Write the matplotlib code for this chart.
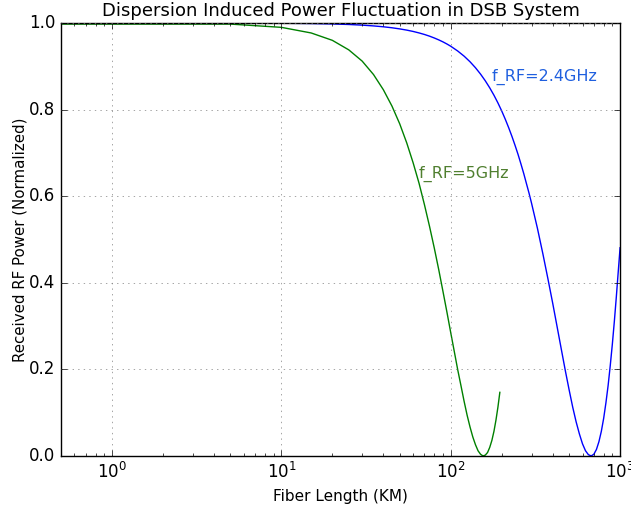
import matplotlib
matplotlib.use('Agg')
import matplotlib.pyplot as plt

# fiber length (km) and normalized RF power
len_5g = [0, 5, 10, 15, 20, 25, 30, 35, 40, 45, 50, 55, 60, 65, 70, 75, 80, 85, 90, 95,
          100, 105, 110, 115, 120, 125, 130, 135, 140, 145, 150, 155, 160, 165, 170, 175,
          180, 185, 190, 195]
pow_5g = [1.0, 0.9975, 0.990, 0.977, 0.960, 0.938, 0.912, 0.881, 0.846, 0.808,
          0.767, 0.723, 0.677, 0.630, 0.580, 0.530, 0.480, 0.430, 0.380, 0.332,
          0.285, 0.241, 0.199, 0.162, 0.126, 0.094, 0.067, 0.044, 0.026, 0.012,
          0.004, 0.0001, 0.002, 0.008, 0.020, 0.036, 0.057, 0.083, 0.113, 0.147]

len_24g = [0, 5, 10, 15, 20, 25, 30, 35, 40, 45, 50, 55, 60, 65, 70, 75, 80, 85, 90, 95,
           100, 110, 120, 130, 140, 150, 160, 170, 180, 190, 200, 210, 220, 230, 240,
           250, 260, 270, 280, 290, 300, 325, 350, 375,
           400, 425, 450, 475, 500, 525, 550, 575, 600, 625, 650, 675, 700, 725, 750,
           775, 800, 825, 850, 875, 900, 925, 950, 975, 1000]
pow_24g = [1.0, 0.9999, 0.9995, 0.9988, 0.9978, 0.9966, 0.9951, 0.9933, 0.9913, 0.9890,
           0.9864, 0.9836, 0.9805, 0.9771, 0.9735, 0.9696, 0.9654, 0.9610, 0.9564, 0.9515,
           0.9464, 0.9353, 0.9234, 0.9105, 0.8967, 0.8820, 0.8665, 0.8502, 0.8332, 0.8154,
           0.7969, 0.7777, 0.7580, 0.7378, 0.7170,
           0.696, 0.674, 0.652, 0.629, 0.607, 0.584, 0.526, 0.467, 0.409,
           0.353, 0.298, 0.246, 0.197, 0.153, 0.113, 0.079, 0.051, 0.028, 0.012,
           0.003, 0.0001, 0.004, 0.015, 0.033, 0.057, 0.087, 0.123, 0.163, 0.209,
           0.258, 0.311, 0.367, 0.425, 0.481]

plt.style.use('classic')
fig = plt.figure(figsize=(6.31, 5.08), dpi=100, facecolor='white')
ax = fig.add_axes([0.0967, 0.1024, 0.886, 0.8523])

ax.plot(len_5g, pow_5g, color='green', lw=1)
ax.plot(len_24g, pow_24g, color='blue', lw=1)

ax.set_xscale('log')
ax.set_xlim(0.5, 1000)
ax.set_ylim(0, 1.0)
ax.grid(True, color='gray', linestyle=':')

ax.text(175, 0.875, 'f_RF=2.4GHz', color='#1f5fdf', fontsize=11.5, va='center')
ax.text(65, 0.651, 'f_RF=5GHz', color='#4f7f2f', fontsize=11.5, va='center')

ax.set_title('Dispersion Induced Power Fluctuation in DSB System', fontsize=13)
ax.set_xlabel('Fiber Length (KM)', fontsize=11)
ax.set_ylabel('Received RF Power (Normalized)', fontsize=10.8, labelpad=1)

fig.savefig('out.png', dpi=100, facecolor='white')
